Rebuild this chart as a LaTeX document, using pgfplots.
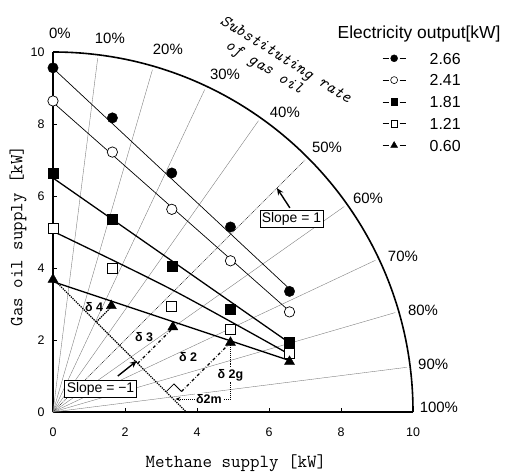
\documentclass[border=0pt]{standalone}
\usepackage{fontspec}
\setmainfont{Liberation Sans}
\usepackage{pgfplots}
\pgfplotsset{compat=1.18}
\usetikzlibrary{arrows.meta}

\begin{document}
\begin{tikzpicture}
\path[use as bounding box] (-53bp,-64bp) rectangle (458bp,412bp);
\begin{axis}[
  at={(0,0)}, anchor=south west,
  scale only axis, width=360bp, height=360bp,
  xmin=0, xmax=10, ymin=0, ymax=10,
  axis x line=bottom, axis y line=left,
  axis line style={-, line width=1.6bp},
  xtick={0,2,...,10}, ytick={0,2,...,10},
  tick align=inside, major tick length=4bp,
  tick style={black, line width=0.6bp},
  clip=false,
  /pgf/number format/assume math mode=true,
  tick label style={font=\fontsize{12.5}{14}\selectfont},
  xticklabel style={yshift=-12bp},
  yticklabel style={xshift=-5bp},
  xlabel={Methane supply [kW]},
  ylabel={Gas oil supply [kW]},
  x label style={at={(axis description cs:0.508,-0.142)}, anchor=center, font=\ttfamily\fontsize{18.5}{18.5}\selectfont},
  y label style={at={(axis description cs:-0.097,0.489)}, anchor=center, font=\ttfamily\fontsize{18.5}{18.5}\selectfont},
  legend style={at={(axis cs:9.14,9.99)}, anchor=north west, draw=none, fill=none, inner sep=0bp,
    font=\fontsize{16}{16}\selectfont, row sep=10.3bp,
    nodes={inner sep=0bp, text height=11.5bp, text depth=0bp}},
  legend cell align=left,
  legend image code/.code={
    \draw[#1, mark=none, line width=0.8bp] (0bp,0bp) -- (6bp,0bp) (17bp,0bp) -- (23bp,0bp);
    \draw[#1] plot coordinates {(11.5bp,0bp)};
    \path[draw=none, fill=none] (0bp,0bp) (47bp,0bp);
  },
]
% radial lines (substituting rate)
\addplot[forget plot, gray, line width=0.4bp] coordinates {(0,0) (1.241,9.822)};
\addplot[forget plot, gray, line width=0.4bp] coordinates {(0,0) (2.762,9.507)};
\addplot[forget plot, gray, line width=0.4bp] coordinates {(0,0) (4.215,8.958)};
\addplot[forget plot, gray, line width=0.4bp] coordinates {(0,0) (5.707,8.090)};
\addplot[forget plot, black, densely dotted, line width=0.7bp] coordinates {(0,0) (7.0,7.0)};
\addplot[forget plot, gray, line width=0.4bp] coordinates {(0,0) (8.090,5.707)};
\addplot[forget plot, gray, line width=0.4bp] coordinates {(0,0) (8.958,4.215)};
\addplot[forget plot, gray, line width=0.4bp] coordinates {(0,0) (9.507,2.762)};
\addplot[forget plot, gray, line width=0.4bp] coordinates {(0,0) (9.822,1.241)};
\draw[line width=1.6bp] (axis cs:10,0) arc[start angle=0, end angle=90, radius=360bp];

% percentage labels
\begin{scope}[every node/.style={font=\fontsize{15}{15}\selectfont}]
\node at (axis cs:0.19,10.53) {0\%};
\node at (axis cs:1.58,10.39) {10\%};
\node at (axis cs:3.19,10.06) {20\%};
\node at (axis cs:4.78,9.38) {30\%};
\node at (axis cs:6.44,8.33) {40\%};
\node at (axis cs:7.61,7.36) {50\%};
\node at (axis cs:8.75,5.94) {60\%};
\node at (axis cs:9.72,4.31) {70\%};
\node at (axis cs:10.28,2.81) {80\%};
\node at (axis cs:10.56,1.31) {90\%};
\node at (axis cs:10.72,0.14) {100\%};
\end{scope}
\node[rotate=-32, align=left, inner sep=0bp, font=\ttfamily\itshape\fontsize{17}{17.6}\selectfont] at (axis cs:6.325,9.553) {Substituting rate\\\hspace*{17bp}of gas oil};

% fitted lines
\addplot[forget plot, black, line width=0.7bp] coordinates {(0,9.55) (6.57,3.42)};
\addplot[forget plot, black, line width=0.7bp] coordinates {(0,8.6) (6.57,2.8)};
\addplot[forget plot, black, line width=1.3bp] coordinates {(0,6.5) (6.57,1.92)};
\addplot[forget plot, black, line width=1.3bp, smooth] coordinates {(0,5.02) (3.3,3.4) (6.57,1.6)};
\addplot[forget plot, black, line width=1.3bp] coordinates {(0,3.62) (6.57,1.43)};

% delta construction
\addplot[forget plot, black, densely dotted, line width=1.3bp] coordinates {(0,3.7) (3.7,0)};
\addplot[forget plot, black, densely dotted, line width=1.3bp] coordinates {(1.2,2.5) (1.6,2.9)};
\addplot[forget plot, black, dash dot, line width=1.3bp] coordinates {(2.35,1.35) (3.33,2.33)};
\addplot[forget plot, black, dash dot, line width=1.3bp] coordinates {(3.57,0.57) (4.93,1.93)};
\addplot[forget plot, black, line width=0.8bp] coordinates {(3.15,0.57) (3.36,0.78) (3.57,0.57)};
\addplot[forget plot, black, densely dotted, line width=0.9bp] coordinates {(4.93,1.9) (4.93,0.36)};
\addplot[forget plot, black, densely dotted, line width=0.9bp, -{Stealth[length=5bp, width=4bp]}] coordinates {(4.93,0.36) (3.40,0.36)};

\begin{scope}[every node/.style={font=\bfseries\fontsize{12.5}{12.5}\selectfont, inner sep=1bp}]
\node at (axis cs:1.14,2.92) {δ 4};
\node at (axis cs:2.53,2.08) {δ 3};
\node at (axis cs:3.75,1.53) {δ 2};
\node[fill=white] at (axis cs:4.93,1.03) {δ 2g};
\node[fill=white] at (axis cs:4.33,0.36) {δ2m};
\end{scope}

\node[draw, line width=0.6bp, fill=white, inner sep=2bp, font=\fontsize{14}{14}\selectfont] at (axis cs:1.32,0.65) {Slope = −1};
\draw[-{Stealth[length=7bp, width=6bp]}, line width=1.4bp] (axis cs:1.8,1.0) -- (axis cs:2.33,1.42);
\node[draw, line width=0.6bp, fill=white, inner sep=2bp, font=\fontsize{14}{14}\selectfont] at (axis cs:6.625,5.375) {Slope = 1};
\draw[-{Stealth[length=7bp, width=6bp]}, line width=1.4bp] (axis cs:6.58,5.67) -- (axis cs:6.22,6.22);

% data points
\addplot[forget plot, only marks, mark=*, mark size=5.2bp, mark options={fill=black, draw=black}] coordinates {(0,9.56) (1.65,8.17) (3.3,6.64) (4.93,5.14) (6.57,3.35)};
\addplot[forget plot, only marks, mark=*, mark size=5.2bp, mark options={fill=white, draw=black, line width=0.7bp}] coordinates {(0,8.64) (1.65,7.22) (3.3,5.63) (4.93,4.2) (6.57,2.78)};
\addplot[forget plot, only marks, mark=square*, mark size=5bp, mark options={fill=black, draw=black}] coordinates {(0,6.64) (1.65,5.36) (3.3,4.06) (4.93,2.86) (6.57,1.95)};
\addplot[forget plot, only marks, mark=square*, mark size=5bp, mark options={fill=white, draw=black, line width=0.7bp}] coordinates {(0,5.11) (1.65,4.0) (3.3,2.94) (4.93,2.29) (6.57,1.62)};
\addplot[forget plot, only marks, mark=triangle*, mark size=5.8bp, mark options={fill=black, draw=black}] coordinates {(0,3.68) (1.62,2.95) (3.33,2.36) (4.93,1.93) (6.57,1.4)};

% legend
\node[font=\fontsize{17.5}{17.5}\selectfont] at (axis cs:10.17,10.5) {Electricity output[kW]};
\addlegendimage{black, mark=*, mark size=3.5bp, mark options={fill=black}}
\addlegendentry{2.66}
\addlegendimage{black, mark=*, mark size=3.5bp, mark options={fill=white, line width=0.6bp}}
\addlegendentry{2.41}
\addlegendimage{black, mark=square*, mark size=3.3bp, mark options={fill=black}}
\addlegendentry{1.81}
\addlegendimage{black, mark=square*, mark size=3.3bp, mark options={fill=white, line width=0.6bp}}
\addlegendentry{1.21}
\addlegendimage{black, mark=triangle*, mark size=4bp, mark options={fill=black}}
\addlegendentry{0.60}
\end{axis}
\end{tikzpicture}
\end{document}
